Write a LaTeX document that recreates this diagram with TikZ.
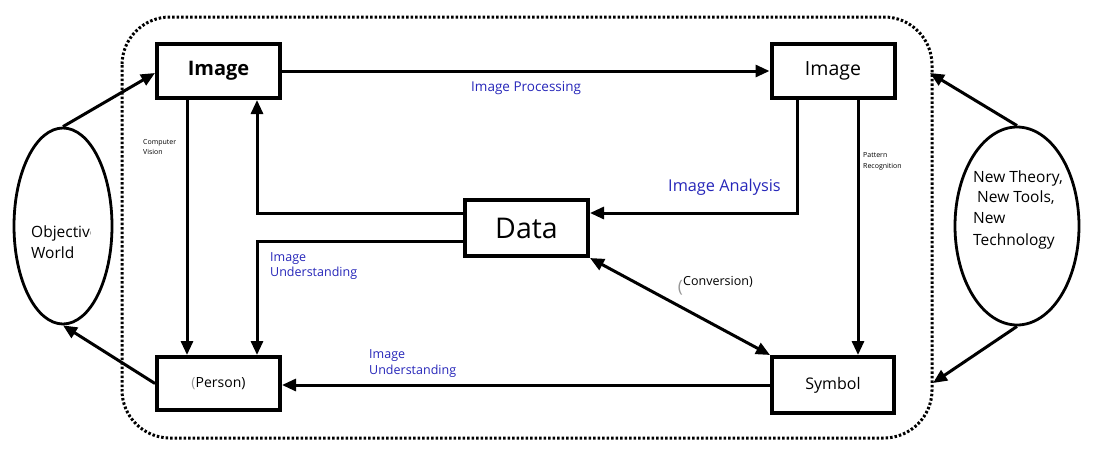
\documentclass[tikz,border=0pt]{standalone}
\usepackage{fontspec}
\setmainfont{Open Sans}
\usetikzlibrary{arrows.meta,shapes.geometric}
\definecolor{lblue}{RGB}{38,38,185}
\definecolor{ghost}{RGB}{150,150,150}
\begin{document}
\begin{tikzpicture}[x=1pt,y=-1pt,
  box/.style={draw,line width=4pt,rectangle,inner sep=0pt,minimum width=123pt,minimum height=54pt},
  world/.style={draw,line width=2.8pt,ellipse,inner sep=0pt},
  conn/.style={line width=3pt,-{Triangle[length=14pt,width=12pt]}},
  dconn/.style={line width=3pt,{Triangle[length=14pt,width=12pt]}-{Triangle[length=14pt,width=12pt]}},
  blab/.style={text=lblue,font=\fontsize{12.5}{15}\selectfont,anchor=base west,inner sep=0pt},
  klab/.style={font=\fontsize{12.5}{15}\selectfont,anchor=base west,inner sep=0pt},
  tiny/.style={font=\fontsize{7}{8}\selectfont,anchor=base west,inner sep=0pt},
  wlab/.style={font=\fontsize{15.5}{18}\selectfont,anchor=base west,inner sep=0pt},
  border/.style={line width=3pt,dash pattern=on 2.5pt off 2pt,rounded corners=48pt}
]
\useasboundingbox (0,0) rectangle (1100,456);

% dotted frame
\draw[border] (122,17) rectangle (932,438);

% boxes
\node[box] (imgL) at (218.5,71) {\fontsize{20}{22}\selectfont\bfseries Image};
\node[box] (imgR) at (833,71) {\fontsize{19.5}{22}\selectfont Image};
\node[box,minimum height=56pt] (data) at (526.5,228) {\fontsize{28.5}{30}\selectfont Data};
\node[box,minimum height=53pt] (person) at (218.5,383.5) {\fontsize{14}{16}\selectfont{\color{ghost}(}Person)};
\node[box,minimum width=122pt,minimum height=56pt] (symbol) at (833,385) {\raisebox{3pt}{\fontsize{16}{18}\selectfont Symbol}};

% ellipses
\node[world,minimum width=98pt,minimum height=196pt] (lw) at (63,226) {};
\node[world,minimum width=124pt,minimum height=198pt] (rw) at (1017,226) {};

% ellipse texts
\begin{scope}
  \clip (0,100) rectangle (90,300);
  \node[wlab] (ow1) at (31,237) {Objective};
\end{scope}
\node[wlab] (ow2) at (31,258) {World};
\node[wlab] (nt1) at (973,182) {New Theory,};
\node[wlab] (nt2) at (977,202) {New Tools,};
\node[wlab] (nt3) at (973,223) {New};
\node[wlab] (nt4) at (973,245) {Technology};

% free ends
\coordinate (tipA) at (930,73);
\coordinate (tipB) at (933,383);

% connectors
\draw[conn] (imgL.east) -- (imgL.east -| imgR.west);
\draw[conn] ([xshift=-36pt]imgR.south) |- ([yshift=15pt]data.east);
\draw[conn] ([xshift=25pt]imgR.south) -- ([xshift=25pt]symbol.north);
\draw[conn] ([yshift=15pt]data.west) -| ([xshift=38.5pt]imgL.south);
\draw[conn] ([yshift=-13pt]data.west) -| ([xshift=38.5pt]person.north);
\draw[conn] ([xshift=-31.5pt]imgL.south) -- ([xshift=-31.5pt]person.north);
\draw[conn] (symbol.west) -- (symbol.west -| person.east);
\draw[dconn] (data.south east) -- (symbol.north west);
\draw[conn] (lw.north) -- ([yshift=-2pt]imgL.west);
\draw[conn] (person.west) -- (lw.south);
\draw[conn] (rw.north) -- (tipA);
\draw[conn] (rw.south) -- (tipB);

% labels
\node[blab,font=\fontsize{13.5}{15}\selectfont] (lp) at (471,91) {Image Processing};
\node[blab,font=\fontsize{16.3}{18}\selectfont] (la) at (668,191) {Image Analysis};
\node[blab] (lu1) at (270,261) {Image};
\node[blab] (lu2) at (270,276) {Understanding};
\node[blab] (lv1) at (369,358) {Image};
\node[blab] (lv2) at (369,374) {Understanding};
\node[klab] (lc) at (683,285) {Conversion)};
\node[anchor=base east,inner sep=0pt,text=ghost,font=\fontsize{17}{18}\selectfont] (lcp) at (683,292) {(};
\node[tiny] (cv1) at (143,144) {Computer};
\node[tiny] (cv2) at (143,154) {Vision};
\node[tiny] (pr1) at (863,157) {Pattern};
\begin{scope}
  \clip (850,150) rectangle (903,175);
  \node[tiny] (pr2) at (863,168) {Recognition};
\end{scope}
\end{tikzpicture}
\end{document}
